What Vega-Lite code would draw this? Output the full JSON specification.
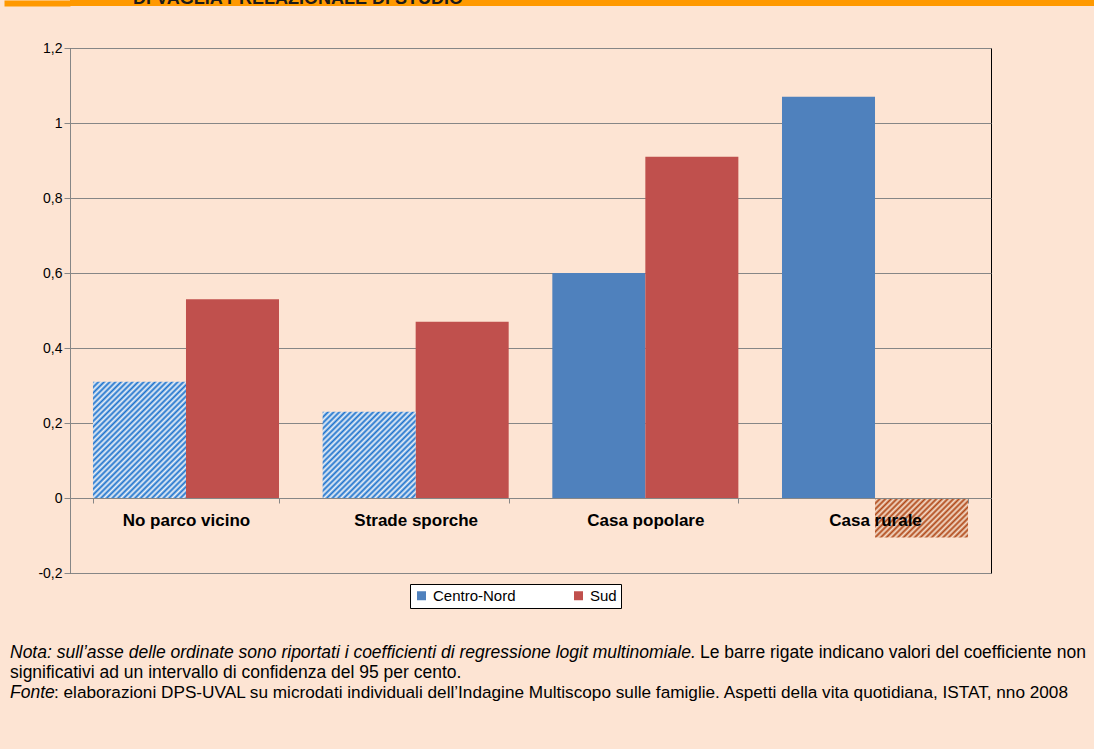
{
  "$schema": "https://vega.github.io/schema/vega-lite/v6.json",
  "background": "#FDE4D3",
  "padding": {"left": 1, "top": 0, "right": 0, "bottom": 0},
  "autosize": {"type": "pad"},
  "columns": 1,
  "align": "none",
  "bounds": "full",
  "spacing": 34,
  "config": {
    "view": {"stroke": null},
    "font": "Liberation Sans",
    "axis": {"labelFont": "Liberation Sans", "labelColor": "#000000"},
    "legend": {"labelFont": "Liberation Sans", "titleFont": "Liberation Sans"}
  },
  "concat": [
    {
      "width": 1090,
      "height": 6,
      "view": {"fill": "#FF9900", "stroke": null},
      "data": {"values": [{"t": "DI VAGLIA PRELAZIONALE DI STUDIO"}]},
      "mark": {"type": "text", "clip": true, "align": "left", "baseline": "alphabetic", "dy": 1, "dx": 63, "fontSize": 18, "fontWeight": "bold", "font": "Liberation Sans", "color": "#1a1a1a"},
      "encoding": {
        "text": {"field": "t"},
        "x": {"datum": 0, "type": "quantitative", "scale": {"domain": [0, 1]}, "axis": null},
        "y": {"datum": 0.5, "type": "quantitative", "scale": {"domain": [0, 1], "nice": false}, "axis": {"title": null, "values": [0.5], "labels": false, "domain": false, "grid": false, "ticks": true, "tickSize": 66, "tickWidth": 6, "tickColor": "#FF9900", "tickCap": "butt", "minExtent": 66, "maxExtent": 66}}
      }
    },
    {
      "width": 921,
      "height": 525,
      "view": {"stroke": "#000000", "strokeWidth": 1},
      "data": {"values": [
        {"cat": "No parco vicino", "series": "Centro-Nord", "value": 0.31, "sig": "no"},
        {"cat": "No parco vicino", "series": "Sud", "value": 0.53, "sig": "yes"},
        {"cat": "Strade sporche", "series": "Centro-Nord", "value": 0.23, "sig": "no"},
        {"cat": "Strade sporche", "series": "Sud", "value": 0.47, "sig": "yes"},
        {"cat": "Casa popolare", "series": "Centro-Nord", "value": 0.60, "sig": "yes"},
        {"cat": "Casa popolare", "series": "Sud", "value": 0.91, "sig": "yes"},
        {"cat": "Casa rurale", "series": "Centro-Nord", "value": 1.07, "sig": "yes"},
        {"cat": "Casa rurale", "series": "Sud", "value": -0.105, "sig": "no"}
      ]},
      "encoding": {
        "x": {
          "field": "cat", "type": "nominal",
          "scale": {"domain": ["No parco vicino", "Strade sporche", "Casa popolare", "Casa rurale"], "paddingInner": 0.19, "paddingOuter": 0.1},
          "axis": {"title": null, "orient": "bottom", "offset": -75, "zindex": 1, "labelAngle": 0, "labelFontSize": 17, "labelFontWeight": "bold", "labelColor": "#000000", "domainColor": "#868686", "tickColor": "#868686", "tickSize": 5, "tickBand": "extent", "labelPadding": 9}
        },
        "xOffset": {"field": "series", "type": "nominal", "scale": {"domain": ["Centro-Nord", "Sud"], "paddingInner": 0, "paddingOuter": 0}},
        "y": {
          "field": "value", "type": "quantitative",
          "scale": {"domain": [-0.2, 1.2], "nice": false, "zero": false},
          "axis": {"title": null, "zindex": 0, "minExtent": 66, "maxExtent": 66, "values": [-0.2, 0, 0.2, 0.4, 0.6, 0.8, 1, 1.2], "grid": true, "gridColor": "#868686", "domainColor": "#868686", "tickColor": "#868686", "tickSize": 6, "labelFontSize": 14, "labelPadding": 2, "labelExpr": "replace(replace(format(datum.value, '.1~f'), '.', ','), '\u2212', '-')"}
        }
      },
      "layer": [
        {
          "transform": [{"filter": "datum.sig == 'yes'"}],
          "mark": {"type": "bar"},
          "encoding": {
            "color": {
              "field": "series", "type": "nominal",
              "scale": {"domain": ["Centro-Nord", "Sud"], "range": ["#4F81BD", "#C0504D"]},
              "legend": {"orient": "none", "legendX": 340, "legendY": 584, "direction": "horizontal", "title": null, "symbolType": "square", "symbolSize": 81, "symbolStrokeWidth": 0, "labelFontSize": 15, "labelColor": "#000000", "labelOffset": 4, "columnPadding": 55, "fillColor": "#FFFFFF", "strokeColor": "#000000", "padding": 4}
            }
          }
        },
        {
          "transform": [{"filter": "datum.cat == 'No parco vicino' && datum.series == 'Centro-Nord'"}],
          "mark": {"type": "bar", "fill": {"gradient": "linear", "x1": 0, "y1": 0, "x2": 0.9493, "y2": 1.1879, "stops": [
            {"offset":0,"color":"#1E73CD"},{"offset":0.0125,"color":"#EEF2F7"},{"offset":0.025,"color":"#1E73CD"},{"offset":0.0375,"color":"#EEF2F7"},{"offset":0.05,"color":"#1E73CD"},{"offset":0.0625,"color":"#EEF2F7"},{"offset":0.075,"color":"#1E73CD"},{"offset":0.0875,"color":"#EEF2F7"},{"offset":0.1,"color":"#1E73CD"},{"offset":0.1125,"color":"#EEF2F7"},{"offset":0.125,"color":"#1E73CD"},{"offset":0.1375,"color":"#EEF2F7"},{"offset":0.15,"color":"#1E73CD"},{"offset":0.1625,"color":"#EEF2F7"},{"offset":0.175,"color":"#1E73CD"},{"offset":0.1875,"color":"#EEF2F7"},{"offset":0.2,"color":"#1E73CD"},{"offset":0.2125,"color":"#EEF2F7"},{"offset":0.225,"color":"#1E73CD"},{"offset":0.2375,"color":"#EEF2F7"},{"offset":0.25,"color":"#1E73CD"},{"offset":0.2625,"color":"#EEF2F7"},{"offset":0.275,"color":"#1E73CD"},{"offset":0.2875,"color":"#EEF2F7"},{"offset":0.3,"color":"#1E73CD"},{"offset":0.3125,"color":"#EEF2F7"},{"offset":0.325,"color":"#1E73CD"},{"offset":0.3375,"color":"#EEF2F7"},{"offset":0.35,"color":"#1E73CD"},{"offset":0.3625,"color":"#EEF2F7"},{"offset":0.375,"color":"#1E73CD"},{"offset":0.3875,"color":"#EEF2F7"},{"offset":0.4,"color":"#1E73CD"},{"offset":0.4125,"color":"#EEF2F7"},{"offset":0.425,"color":"#1E73CD"},{"offset":0.4375,"color":"#EEF2F7"},{"offset":0.45,"color":"#1E73CD"},{"offset":0.4625,"color":"#EEF2F7"},{"offset":0.475,"color":"#1E73CD"},{"offset":0.4875,"color":"#EEF2F7"},{"offset":0.5,"color":"#1E73CD"},{"offset":0.5125,"color":"#EEF2F7"},{"offset":0.525,"color":"#1E73CD"},{"offset":0.5375,"color":"#EEF2F7"},{"offset":0.55,"color":"#1E73CD"},{"offset":0.5625,"color":"#EEF2F7"},{"offset":0.575,"color":"#1E73CD"},{"offset":0.5875,"color":"#EEF2F7"},{"offset":0.6,"color":"#1E73CD"},{"offset":0.6125,"color":"#EEF2F7"},{"offset":0.625,"color":"#1E73CD"},{"offset":0.6375,"color":"#EEF2F7"},{"offset":0.65,"color":"#1E73CD"},{"offset":0.6625,"color":"#EEF2F7"},{"offset":0.675,"color":"#1E73CD"},{"offset":0.6875,"color":"#EEF2F7"},{"offset":0.7,"color":"#1E73CD"},{"offset":0.7125,"color":"#EEF2F7"},{"offset":0.725,"color":"#1E73CD"},{"offset":0.7375,"color":"#EEF2F7"},{"offset":0.75,"color":"#1E73CD"},{"offset":0.7625,"color":"#EEF2F7"},{"offset":0.775,"color":"#1E73CD"},{"offset":0.7875,"color":"#EEF2F7"},{"offset":0.8,"color":"#1E73CD"},{"offset":0.8125,"color":"#EEF2F7"},{"offset":0.825,"color":"#1E73CD"},{"offset":0.8375,"color":"#EEF2F7"},{"offset":0.85,"color":"#1E73CD"},{"offset":0.8625,"color":"#EEF2F7"},{"offset":0.875,"color":"#1E73CD"},{"offset":0.8875,"color":"#EEF2F7"},{"offset":0.9,"color":"#1E73CD"},{"offset":0.9125,"color":"#EEF2F7"},{"offset":0.925,"color":"#1E73CD"},{"offset":0.9375,"color":"#EEF2F7"},{"offset":0.95,"color":"#1E73CD"},{"offset":0.9625,"color":"#EEF2F7"},{"offset":0.975,"color":"#1E73CD"},{"offset":0.9875,"color":"#EEF2F7"},{"offset":1,"color":"#1E73CD"}
          ]}}
        },
        {
          "transform": [{"filter": "datum.cat == 'Strade sporche' && datum.series == 'Centro-Nord'"}],
          "mark": {"type": "bar", "fill": {"gradient": "linear", "x1": 0, "y1": 0, "x2": 1.3081, "y2": 1.2144, "stops": [
            {"offset":0,"color":"#1E73CD"},{"offset":0.0125,"color":"#EEF2F7"},{"offset":0.025,"color":"#1E73CD"},{"offset":0.0375,"color":"#EEF2F7"},{"offset":0.05,"color":"#1E73CD"},{"offset":0.0625,"color":"#EEF2F7"},{"offset":0.075,"color":"#1E73CD"},{"offset":0.0875,"color":"#EEF2F7"},{"offset":0.1,"color":"#1E73CD"},{"offset":0.1125,"color":"#EEF2F7"},{"offset":0.125,"color":"#1E73CD"},{"offset":0.1375,"color":"#EEF2F7"},{"offset":0.15,"color":"#1E73CD"},{"offset":0.1625,"color":"#EEF2F7"},{"offset":0.175,"color":"#1E73CD"},{"offset":0.1875,"color":"#EEF2F7"},{"offset":0.2,"color":"#1E73CD"},{"offset":0.2125,"color":"#EEF2F7"},{"offset":0.225,"color":"#1E73CD"},{"offset":0.2375,"color":"#EEF2F7"},{"offset":0.25,"color":"#1E73CD"},{"offset":0.2625,"color":"#EEF2F7"},{"offset":0.275,"color":"#1E73CD"},{"offset":0.2875,"color":"#EEF2F7"},{"offset":0.3,"color":"#1E73CD"},{"offset":0.3125,"color":"#EEF2F7"},{"offset":0.325,"color":"#1E73CD"},{"offset":0.3375,"color":"#EEF2F7"},{"offset":0.35,"color":"#1E73CD"},{"offset":0.3625,"color":"#EEF2F7"},{"offset":0.375,"color":"#1E73CD"},{"offset":0.3875,"color":"#EEF2F7"},{"offset":0.4,"color":"#1E73CD"},{"offset":0.4125,"color":"#EEF2F7"},{"offset":0.425,"color":"#1E73CD"},{"offset":0.4375,"color":"#EEF2F7"},{"offset":0.45,"color":"#1E73CD"},{"offset":0.4625,"color":"#EEF2F7"},{"offset":0.475,"color":"#1E73CD"},{"offset":0.4875,"color":"#EEF2F7"},{"offset":0.5,"color":"#1E73CD"},{"offset":0.5125,"color":"#EEF2F7"},{"offset":0.525,"color":"#1E73CD"},{"offset":0.5375,"color":"#EEF2F7"},{"offset":0.55,"color":"#1E73CD"},{"offset":0.5625,"color":"#EEF2F7"},{"offset":0.575,"color":"#1E73CD"},{"offset":0.5875,"color":"#EEF2F7"},{"offset":0.6,"color":"#1E73CD"},{"offset":0.6125,"color":"#EEF2F7"},{"offset":0.625,"color":"#1E73CD"},{"offset":0.6375,"color":"#EEF2F7"},{"offset":0.65,"color":"#1E73CD"},{"offset":0.6625,"color":"#EEF2F7"},{"offset":0.675,"color":"#1E73CD"},{"offset":0.6875,"color":"#EEF2F7"},{"offset":0.7,"color":"#1E73CD"},{"offset":0.7125,"color":"#EEF2F7"},{"offset":0.725,"color":"#1E73CD"},{"offset":0.7375,"color":"#EEF2F7"},{"offset":0.75,"color":"#1E73CD"},{"offset":0.7625,"color":"#EEF2F7"},{"offset":0.775,"color":"#1E73CD"},{"offset":0.7875,"color":"#EEF2F7"},{"offset":0.8,"color":"#1E73CD"},{"offset":0.8125,"color":"#EEF2F7"},{"offset":0.825,"color":"#1E73CD"},{"offset":0.8375,"color":"#EEF2F7"},{"offset":0.85,"color":"#1E73CD"},{"offset":0.8625,"color":"#EEF2F7"},{"offset":0.875,"color":"#1E73CD"},{"offset":0.8875,"color":"#EEF2F7"},{"offset":0.9,"color":"#1E73CD"},{"offset":0.9125,"color":"#EEF2F7"},{"offset":0.925,"color":"#1E73CD"},{"offset":0.9375,"color":"#EEF2F7"},{"offset":0.95,"color":"#1E73CD"},{"offset":0.9625,"color":"#EEF2F7"},{"offset":0.975,"color":"#1E73CD"},{"offset":0.9875,"color":"#EEF2F7"},{"offset":1,"color":"#1E73CD"}
          ]}}
        },
        {
          "transform": [{"filter": "datum.cat == 'Casa rurale' && datum.series == 'Sud'"}],
          "mark": {"type": "bar", "fill": {"gradient": "linear", "x1": 0, "y1": 0, "x2": 2.0643, "y2": 0.8755, "stops": [
            {"offset":0,"color":"#B04818"},{"offset":0.0125,"color":"#F6E0CE"},{"offset":0.025,"color":"#B04818"},{"offset":0.0375,"color":"#F6E0CE"},{"offset":0.05,"color":"#B04818"},{"offset":0.0625,"color":"#F6E0CE"},{"offset":0.075,"color":"#B04818"},{"offset":0.0875,"color":"#F6E0CE"},{"offset":0.1,"color":"#B04818"},{"offset":0.1125,"color":"#F6E0CE"},{"offset":0.125,"color":"#B04818"},{"offset":0.1375,"color":"#F6E0CE"},{"offset":0.15,"color":"#B04818"},{"offset":0.1625,"color":"#F6E0CE"},{"offset":0.175,"color":"#B04818"},{"offset":0.1875,"color":"#F6E0CE"},{"offset":0.2,"color":"#B04818"},{"offset":0.2125,"color":"#F6E0CE"},{"offset":0.225,"color":"#B04818"},{"offset":0.2375,"color":"#F6E0CE"},{"offset":0.25,"color":"#B04818"},{"offset":0.2625,"color":"#F6E0CE"},{"offset":0.275,"color":"#B04818"},{"offset":0.2875,"color":"#F6E0CE"},{"offset":0.3,"color":"#B04818"},{"offset":0.3125,"color":"#F6E0CE"},{"offset":0.325,"color":"#B04818"},{"offset":0.3375,"color":"#F6E0CE"},{"offset":0.35,"color":"#B04818"},{"offset":0.3625,"color":"#F6E0CE"},{"offset":0.375,"color":"#B04818"},{"offset":0.3875,"color":"#F6E0CE"},{"offset":0.4,"color":"#B04818"},{"offset":0.4125,"color":"#F6E0CE"},{"offset":0.425,"color":"#B04818"},{"offset":0.4375,"color":"#F6E0CE"},{"offset":0.45,"color":"#B04818"},{"offset":0.4625,"color":"#F6E0CE"},{"offset":0.475,"color":"#B04818"},{"offset":0.4875,"color":"#F6E0CE"},{"offset":0.5,"color":"#B04818"},{"offset":0.5125,"color":"#F6E0CE"},{"offset":0.525,"color":"#B04818"},{"offset":0.5375,"color":"#F6E0CE"},{"offset":0.55,"color":"#B04818"},{"offset":0.5625,"color":"#F6E0CE"},{"offset":0.575,"color":"#B04818"},{"offset":0.5875,"color":"#F6E0CE"},{"offset":0.6,"color":"#B04818"},{"offset":0.6125,"color":"#F6E0CE"},{"offset":0.625,"color":"#B04818"},{"offset":0.6375,"color":"#F6E0CE"},{"offset":0.65,"color":"#B04818"},{"offset":0.6625,"color":"#F6E0CE"},{"offset":0.675,"color":"#B04818"},{"offset":0.6875,"color":"#F6E0CE"},{"offset":0.7,"color":"#B04818"},{"offset":0.7125,"color":"#F6E0CE"},{"offset":0.725,"color":"#B04818"},{"offset":0.7375,"color":"#F6E0CE"},{"offset":0.75,"color":"#B04818"},{"offset":0.7625,"color":"#F6E0CE"},{"offset":0.775,"color":"#B04818"},{"offset":0.7875,"color":"#F6E0CE"},{"offset":0.8,"color":"#B04818"},{"offset":0.8125,"color":"#F6E0CE"},{"offset":0.825,"color":"#B04818"},{"offset":0.8375,"color":"#F6E0CE"},{"offset":0.85,"color":"#B04818"},{"offset":0.8625,"color":"#F6E0CE"},{"offset":0.875,"color":"#B04818"},{"offset":0.8875,"color":"#F6E0CE"},{"offset":0.9,"color":"#B04818"},{"offset":0.9125,"color":"#F6E0CE"},{"offset":0.925,"color":"#B04818"},{"offset":0.9375,"color":"#F6E0CE"},{"offset":0.95,"color":"#B04818"},{"offset":0.9625,"color":"#F6E0CE"},{"offset":0.975,"color":"#B04818"},{"offset":0.9875,"color":"#F6E0CE"},{"offset":1,"color":"#B04818"}
          ]}}
        }
      ]
    },
    {
      "width": 1090,
      "height": 136,
      "encoding": {
        "x": {"datum": 0, "type": "quantitative", "scale": {"domain": [0, 1]}, "axis": null},
        "y": {"field": "line", "type": "quantitative", "scale": {"domain": [5.9, -0.9], "nice": false, "zero": false}, "axis": null},
        "text": {"field": "t"}
      },
      "layer": [
        {
          "data": {"values": [
            {"line": 1, "t": "Nota: sull’asse delle ordinate sono riportati i coefficienti di regressione logit multinomiale."},
            {"line": 3, "t": "Fonte"}
          ]},
          "mark": {"type": "text", "align": "left", "baseline": "middle", "fontStyle": "italic", "fontSize": 17.5, "font": "Liberation Sans", "color": "#000000", "dx": -60}
        },
        {
          "data": {"values": [{"line": 2, "t": "significativi ad un intervallo di confidenza del 95 per cento."}]},
          "mark": {"type": "text", "align": "left", "baseline": "middle", "fontSize": 17.5, "font": "Liberation Sans", "color": "#000000", "dx": -60}
        },
        {
          "data": {"values": [{"line": 1, "t": "Le barre rigate indicano valori del coefficiente non"}]},
          "mark": {"type": "text", "align": "left", "baseline": "middle", "fontSize": 17.5, "font": "Liberation Sans", "color": "#000000", "dx": 630}
        },
        {
          "data": {"values": [{"line": 3, "t": ": elaborazioni DPS-UVAL su microdati individuali dell’Indagine Multiscopo sulle famiglie. Aspetti della vita quotidiana, ISTAT, nno 2008"}]},
          "mark": {"type": "text", "align": "left", "baseline": "middle", "fontSize": 17.2, "font": "Liberation Sans", "color": "#000000", "dx": -16}
        }
      ]
    }
  ]
}
